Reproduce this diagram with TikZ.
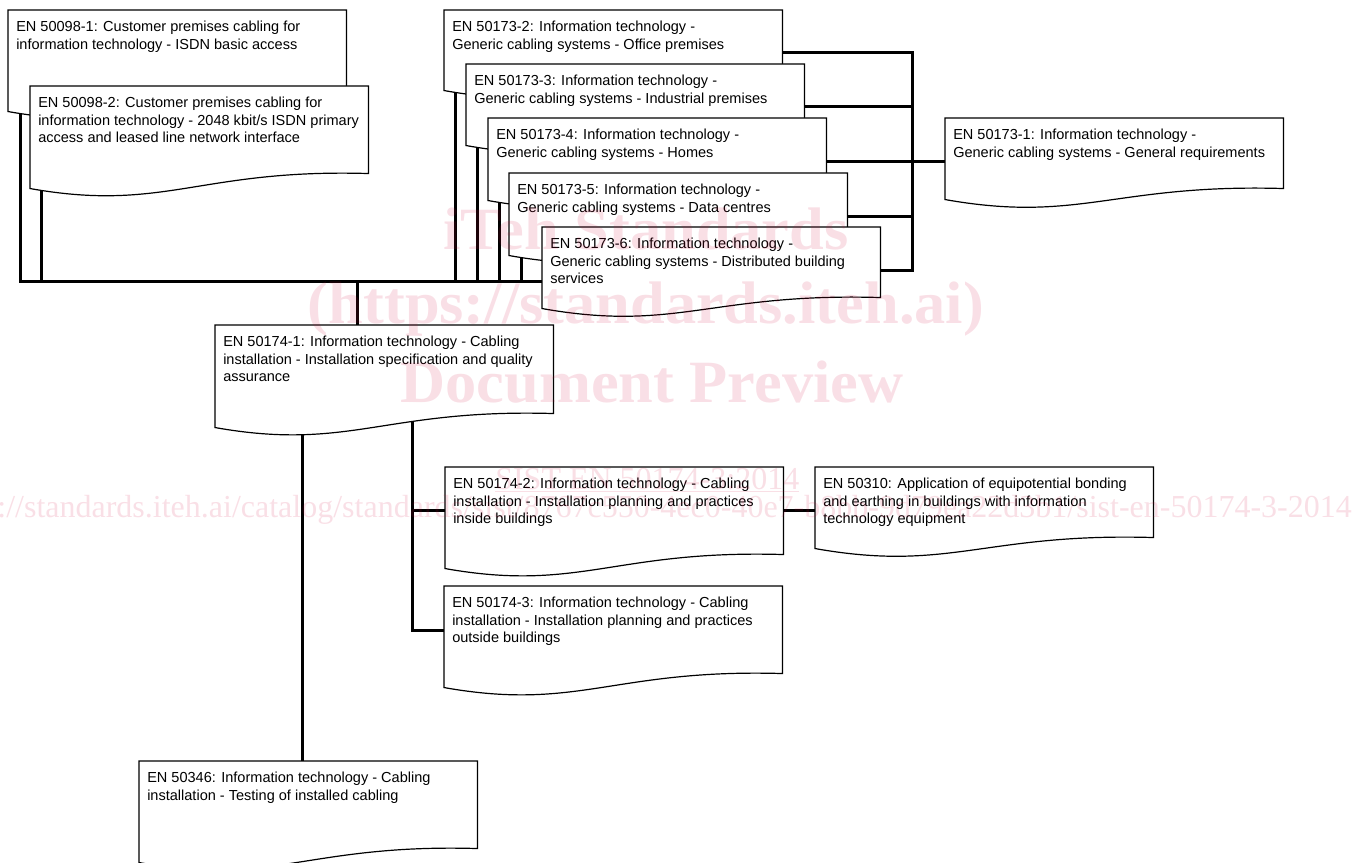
\documentclass[tikz,border=0pt]{standalone}
\usepackage{fontspec}
\setmainfont{Liberation Sans}
\newfontfamily\wmfont{Liberation Serif}
\usetikzlibrary{calc}
\definecolor{wmred}{RGB}{210,10,60}
\tikzset{
  docnode/.style={rectangle, draw=none, inner sep=0pt, anchor=north west, minimum width=253.5pt},
  docshape/.style={draw=black, fill=white, line width=0.9pt, line join=miter},
  doctext/.style={anchor=north west, inner sep=0pt, align=left, font=\fontsize{10.9pt}{13.35pt}\selectfont},
  conn/.style={draw=black, line width=2.25pt, line join=miter},
  wm/.style={text=wmred, text opacity=0.13, inner sep=0pt},
}
% #1 name, #2 x, #3 y (top), #4 height to right bottom (px)
\newcommand\docdef[4]{\path node[docnode, minimum height={#4*0.75pt}] (#1) at (#2,#3) {};}
% #1 name, #2 drop of left bottom below right bottom (px), #3 text
\newcommand\docdraw[3]{%
  \path[docshape] (#1.north west) -- (#1.north east) -- (#1.south east)
    .. controls ($(#1.south east)+(-169,-5)$) and ($(#1.south west)+(135,{#2+24})$)
    .. ($(#1.south west)+(0,#2)$) -- cycle;
  \node[doctext] (#1-t) at ($(#1.north west)+(8,9)$) {\rule{0pt}{9pt}#3};}
\begin{document}
\begin{tikzpicture}[x=0.75pt,y=-0.75pt]
\useasboundingbox (0,0) rectangle (1366,863);
% node frames
\docdef{b1}{8}{10}{87}
\docdef{b2}{30}{86}{87}
\docdef{s2}{444}{10}{70}
\docdef{s3}{466}{64}{70}
\docdef{s4}{488}{118}{70}
\docdef{s5}{509}{173}{70}
\docdef{s6}{542}{227}{70}
\docdef{s1}{945}{118}{70}
\docdef{c1}{215}{325}{88}
\docdef{c2}{445}{467}{87}
\docdef{eq}{815}{467}{70}
\docdef{c3}{444}{586}{87}
\docdef{t}{139}{761}{87}
% connectors
\coordinate (b1d) at ($(b1.south west)+(12,0)$);
\coordinate (b2d) at ($(b2.south west)+(11,0)$);
\coordinate (s2d) at ($(s2.south west)+(11,0)$);
\coordinate (s3d) at ($(s3.south west)+(11,0)$);
\coordinate (s4d) at ($(s4.south west)+(11,0)$);
\coordinate (s5d) at ($(s5.south west)+(12,0)$);
\coordinate (bus) at ($(s6.north west)+(0,54)$);
\draw[conn] (b1d) |- (bus);
\foreach \n in {b2d,s2d,s3d,s4d,s5d} \draw[conn] (\n) -- (\n |- bus);
\coordinate (c1u) at ($(c1.north west)+(142,0)$);
\draw[conn] (c1u) -- (c1u |- bus);
\coordinate (s2r) at ($(s2.north east)+(0,43)$);
\coordinate (s3r) at ($(s3.north east)+(0,43)$);
\coordinate (s4r) at ($(s4.north east)+(0,44)$);
\coordinate (s5r) at ($(s5.north east)+(0,43)$);
\coordinate (s6r) at ($(s6.north east)+(0,43)$);
\coordinate (s1l) at ($(s1.north west)+(0,44)$);
\coordinate (rb) at ($(s2r)+(130,0)$);
\draw[conn] (s2r) -| (rb |- s6r) -- (s6r);
\foreach \n in {s3r,s5r} \draw[conn] (\n) -- (\n -| rb);
\draw[conn] (s4r) -- (s1l);
\coordinate (c1a) at ($(c1.south west)+(87,0)$);
\draw[conn] (c1a) -- (c1a |- t.north);
\coordinate (c1b) at ($(c1.south west)+(197,0)$);
\coordinate (c2l) at ($(c2.north west)+(0,43)$);
\coordinate (c3l) at ($(c3.north west)+(0,44)$);
\draw[conn] (c1b) |- (c3l);
\draw[conn] (c2l) -- (c2l -| c1b);
\draw[conn] ($(c2.north east)+(0,43)$) -- ($(eq.north west)+(0,43)$);
% boxes
\docdraw{b1}{14}{EN 50098-1: Customer premises cabling for\\information technology - ISDN basic access}
\docdraw{b2}{15}{EN 50098-2: Customer premises cabling for\\information technology - 2048 kbit/s ISDN primary\\access and leased line network interface}
\docdraw{s2}{10}{EN 50173-2: Information technology -\\Generic cabling systems - Office premises}
\docdraw{s3}{11}{EN 50173-3: Information technology -\\Generic cabling systems - Industrial premises}
\docdraw{s4}{12}{EN 50173-4: Information technology -\\Generic cabling systems - Homes}
\docdraw{s5}{12}{EN 50173-5: Information technology -\\Generic cabling systems - Data centres}
\docdraw{s6}{11}{EN 50173-6: Information technology -\\Generic cabling systems - Distributed building\\services}
\docdraw{s1}{11}{EN 50173-1: Information technology -\\Generic cabling systems - General requirements}
\docdraw{c1}{14}{EN 50174-1: Information technology - Cabling\\installation - Installation specification and quality\\assurance}
\docdraw{c2}{14}{EN 50174-2: Information technology - Cabling\\installation - Installation planning and practices\\inside buildings}
\docdraw{eq}{11}{EN 50310: Application of equipotential bonding\\and earthing in buildings with information\\technology equipment}
\docdraw{c3}{14}{EN 50174-3: Information technology - Cabling\\installation - Installation planning and practices\\outside buildings}
\docdraw{t}{14}{EN 50346: Information technology - Cabling\\installation - Testing of installed cabling}
% watermark
\node[wm, anchor=base, font={\wmfont\bfseries\fontsize{45pt}{50pt}\selectfont}] (wm1) at (646,249) {\scalebox{1.04}[1]{iTeh Standards}};
\node[wm, anchor=base, font={\wmfont\bfseries\fontsize{45pt}{50pt}\selectfont}] (wm2) at (646,323) {\scalebox{1.04}[1]{(https://standards.iteh.ai)}};
\node[wm, anchor=base, font={\wmfont\bfseries\fontsize{45pt}{50pt}\selectfont}] (wm3) at (652,402) {\scalebox{1.04}[1]{Document Preview}};
\node[wm, anchor=base west, font={\wmfont\fontsize{24pt}{28pt}\selectfont}] (wm4) at (495,489) {\underline{SIST EN 50174-3:2014}};
\node[wm, anchor=base east, font={\wmfont\fontsize{24pt}{28pt}\selectfont}] (wm5) at (1352,517) {https://standards.iteh.ai/catalog/standards/sist/8767c550-4ec0-40e7-b8bb-9d79ea22d3b1/sist-en-50174-3-2014};
\end{tikzpicture}
\end{document}
